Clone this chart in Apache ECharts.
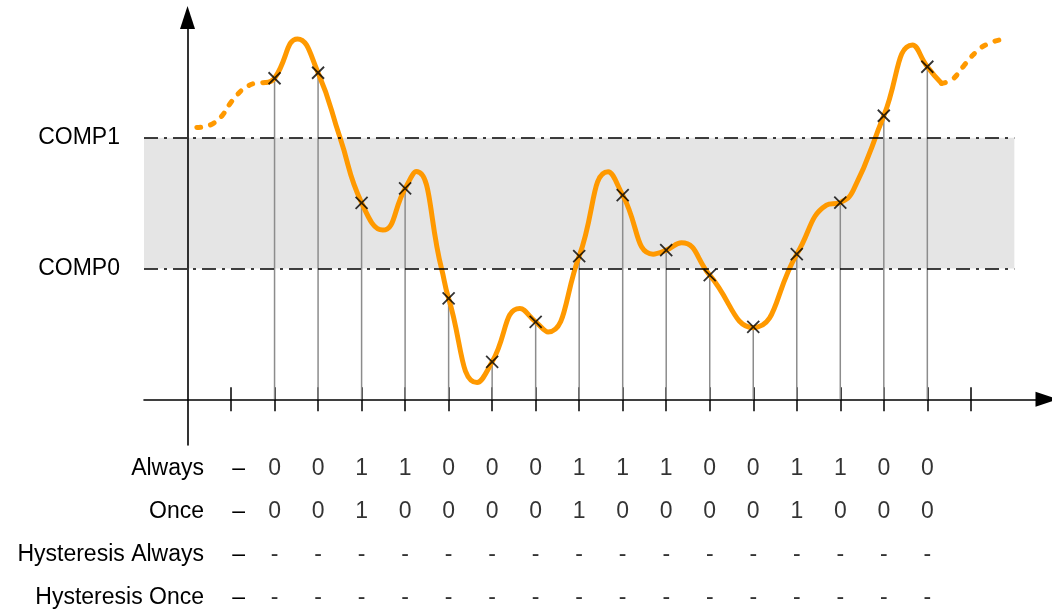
<!DOCTYPE html>
<html>
<head>
<meta charset="utf-8">
<script src="https://cdn.jsdelivr.net/npm/echarts@6/dist/echarts.min.js"></script>
<style>
  html, body { margin: 0; padding: 0; background: #fff; }
  #chart { width: 1052px; height: 611px; }
</style>
</head>
<body>
<div id="chart"></div>
<script>
  // sample instants on the time axis (tick index units) and the sampled values
  var ticks = [1, 2, 3, 4, 5, 6, 7, 8, 9, 10, 11, 12, 13, 14, 15, 16, 17, 18];
  var sampleX = [2, 3, 4, 5, 6, 7, 8, 9, 10, 11, 12, 13, 14, 15, 16, 17];
  var sampleY = [2.456, 2.498, 1.503, 1.613, 0.771, 0.286, 0.592, 1.095,
                 1.562, 1.141, 0.949, 0.554, 1.110, 1.504, 2.169, 2.544];

  // comparator thresholds
  var compLevels = [1, 2];
  var compNames = ['COMP0', 'COMP1'];
  var bandRange = [-1, 19];

  // analog signal: dashed lead-in, solid part, dashed tail
  var curveLead = [[0.214, 2.079], [0.398, 2.087], [0.604, 2.113], [0.788, 2.167], [0.972, 2.259],
                   [1.156, 2.335], [1.340, 2.385], [1.546, 2.416], [1.799, 2.423]];
  var curveMain = [[1.799, 2.423], [2, 2.456], [2.528, 2.757], [3, 2.498], [3.5, 2.006],
                   [4, 1.503], [4.488, 1.294], [5, 1.613], [5.257, 1.742], [5.836, 1.001],
                   [6, 0.771], [6.654, 0.128], [7, 0.286], [7.636, 0.694], [8, 0.592],
                   [8.286, 0.515], [9, 1.095], [9.665, 1.740], [10, 1.562], [10.699, 1.110],
                   [11, 1.141], [11.351, 1.197], [12, 0.949], [13, 0.548], [14, 1.110],
                   [14.683, 1.485], [15, 1.506], [15.3, 1.600], [16, 2.169], [16.659, 2.711],
                   [17, 2.544], [17.325, 2.417]];
  var curveTail = [[17.325, 2.417], [17.447, 2.427], [17.608, 2.456], [17.838, 2.551],
                   [18.109, 2.653], [18.396, 2.720], [18.780, 2.757]];

  // result table under the axis
  var rowNames = ['Always', 'Once', 'Hysteresis Always', 'Hysteresis Once'];
  var tableCols = [2, 3, 4, 5, 6, 7, 8, 9, 10, 11, 12, 13, 14, 15, 16, 17];
  var alwaysRow = ['0', '0', '1', '1', '0', '0', '0', '1', '1', '1', '0', '0', '1', '1', '0', '0'];
  var onceRow = ['0', '0', '1', '0', '0', '0', '0', '1', '0', '0', '0', '0', '1', '0', '0', '0'];
  var hystAlwaysRow = ['-', '-', '-', '-', '-', '-', '-', '-', '-', '-', '-', '-', '-', '-', '-', '-'];
  var hystOnceRow = ['-', '-', '-', '-', '-', '-', '-', '-', '-', '-', '-', '-', '-', '-', '-', '-'];

  var FONT = "'Liberation Sans', Arial, sans-serif";
  var ORANGE = '#ff9900';

  var tableRows = [alwaysRow, onceRow, hystAlwaysRow, hystOnceRow];
  var tableData = [];
  tableRows.forEach(function (row, r) {
    row.forEach(function (txt, c) {
      tableData.push([tableCols[c], r, txt]);
    });
  });
  var samples = sampleX.map(function (x, i) { return [x, sampleY[i]]; });

  var chart = echarts.init(document.getElementById('chart'), null, {renderer: 'canvas'});

  var option = {
    animation: false,
    backgroundColor: '#fff',
    grid: [
      {left: 144, right: 5, top: 17.6, bottom: 166, containLabel: false, outerBoundsMode: 'none'},
      {left: 144, right: 5, top: 447.5, bottom: -8.5, containLabel: false, outerBoundsMode: 'none'}
    ],
    xAxis: [
      {
        type: 'value', gridIndex: 0, min: -1, max: 19.75, position: 'bottom',
        axisLine: {
          onZero: true, onZeroAxisIndex: 0,
          symbol: ['none', 'triangle'], symbolSize: [15, 23],
          lineStyle: {color: '#000', width: 1.6}
        },
        axisTick: {show: true, inside: true, length: 12, customValues: ticks,
                   lineStyle: {color: '#000', width: 1.5}},
        axisLabel: {show: false},
        splitLine: {show: false}
      },
      {
        // second copy of the axis, only for the lower half of the ticks
        type: 'value', gridIndex: 0, min: -1, max: 19.75, position: 'bottom',
        axisLine: {show: false, onZero: true, onZeroAxisIndex: 0},
        axisTick: {show: true, inside: false, length: 12, customValues: ticks,
                   lineStyle: {color: '#000', width: 1.5}},
        axisLabel: {show: false},
        splitLine: {show: false}
      },
      {
        type: 'value', gridIndex: 1, min: -1, max: 19.75, show: false
      }
    ],
    yAxis: [
      {
        type: 'value', gridIndex: 0, min: -0.35, max: 2.92, z: 2,
        axisLine: {
          onZero: true, onZeroAxisIndex: 0,
          symbol: ['none', 'triangle'], symbolSize: [15, 23],
          lineStyle: {color: '#000', width: 1.6}
        },
        axisTick: {show: false},
        splitLine: {show: false},
        axisLabel: {
          customValues: compLevels,
          formatter: function (v) { return compNames[compLevels.indexOf(v)]; },
          margin: 24, fontSize: 23, color: '#000', fontFamily: FONT
        }
      },
      {
        type: 'category', gridIndex: 1, data: rowNames, inverse: true,
        axisLine: {show: false, onZero: false},
        axisTick: {show: false},
        splitLine: {show: false},
        axisLabel: {
          margin: -101,
          formatter: function (v) { return '{n|' + v + '}{d|\u2013}'; },
          rich: {
            n: {fontSize: 23, color: '#000', fontFamily: FONT},
            d: {fontSize: 23, color: '#000', fontFamily: FONT, width: 41, align: 'right'}
          }
        }
      }
    ],
    series: [
      {
        name: 'band', type: 'line', data: [], z: 1, silent: true,
        markArea: {
          silent: true,
          itemStyle: {color: '#e5e5e5'},
          data: [[{coord: [bandRange[0], compLevels[0]]}, {coord: [bandRange[1], compLevels[1]]}]]
        }
      },
      {
        name: 'stems', type: 'custom', z: 2, silent: true,
        data: samples,
        renderItem: function (params, api) {
          var top = api.coord([api.value(0), api.value(1)]);
          var base = api.coord([api.value(0), 0]);
          return {
            type: 'line',
            shape: {x1: top[0], y1: top[1], x2: base[0], y2: base[1]},
            style: {stroke: '#8c8c8c', lineWidth: 1.5}
          };
        }
      },
      {
        name: 'thresholds', type: 'line', data: [], z: 3, silent: true,
        markLine: {
          silent: true, symbol: ['none', 'none'],
          label: {show: false},
          lineStyle: {color: '#000', width: 1.5, type: [14, 6, 3, 6]},
          data: compLevels.map(function (v) {
            return [{coord: [bandRange[0], v]}, {coord: [bandRange[1], v]}];
          })
        }
      },
      {
        name: 'lead', type: 'line', z: 4, data: curveLead, smooth: 0.5, showSymbol: false, silent: true,
        lineStyle: {color: ORANGE, width: 5, type: [4, 10], cap: 'round'}
      },
      {
        name: 'signal', type: 'line', z: 4, data: curveMain, smooth: 0.5, showSymbol: false, silent: true,
        lineStyle: {color: ORANGE, width: 5, cap: 'round', join: 'round'}
      },
      {
        name: 'tail', type: 'line', z: 4, data: curveTail, smooth: 0.5, showSymbol: false, silent: true,
        lineStyle: {color: ORANGE, width: 5, type: [4, 10], cap: 'round'}
      },
      {
        name: 'samples', type: 'scatter', z: 5, data: samples, silent: true,
        symbol: 'path://M0,0L10,10M10,0L0,10', symbolSize: 12,
        itemStyle: {color: 'rgba(0,0,0,0)', borderColor: '#000', borderWidth: 1.8}
      },
      {
        name: 'table', type: 'scatter', xAxisIndex: 2, yAxisIndex: 1, z: 5, silent: true,
        data: tableData, symbolSize: 1,
        itemStyle: {color: 'rgba(0,0,0,0)'},
        label: {
          show: true, position: 'inside',
          formatter: function (p) { return p.value[2]; },
          fontSize: 23, color: '#000', fontFamily: FONT
        }
      }
    ]
  };

  chart.setOption(option);
</script>
</body>
</html>
